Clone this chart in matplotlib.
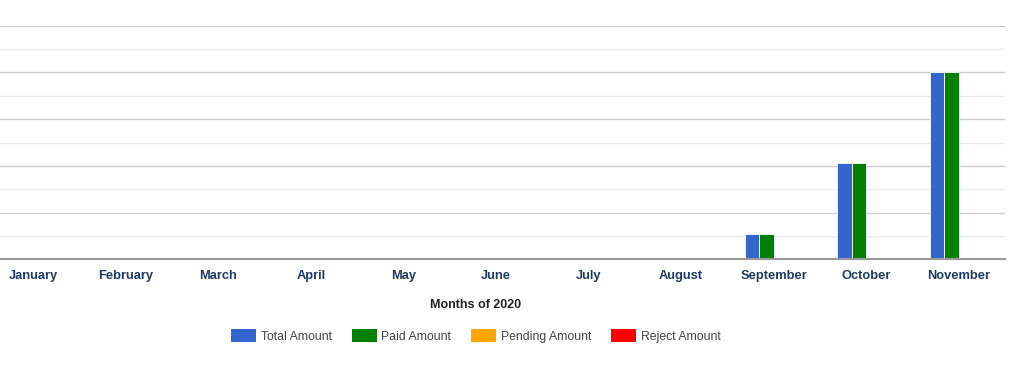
import matplotlib
matplotlib.use("Agg")
import matplotlib.pyplot as plt
from matplotlib.patches import Patch
import numpy as np

months = ["January", "February", "March", "April", "May", "June", "July",
          "August", "September", "October", "November"]
total_amount = [0, 0, 0, 0, 0, 0, 0, 0, 540, 2060, 4010]
paid_amount = [0, 0, 0, 0, 0, 0, 0, 0, 540, 2060, 4010]
pending_amount = [0, 0, 0, 0, 0, 0, 0, 0, 0, 0, 0]
reject_amount = [0, 0, 0, 0, 0, 0, 0, 0, 0, 0, 0]
series_names = ["Total Amount", "Paid Amount", "Pending Amount", "Reject Amount"]
colors = ["#3366cc", "#008000", "#ffa500", "#ff0000"]

plt.rcParams['font.family'] = ['Liberation Sans', 'DejaVu Sans']

W, H = 1024, 365
fig = plt.figure(figsize=(W / 100, H / 100), dpi=100)
left_px, right_px, top_px, base_px = -13, 1005, 25.7, 259.3
ax = fig.add_axes([left_px / W, (H - base_px) / H, (right_px - left_px) / W, (base_px - top_px) / H])

x = np.arange(len(months))
bw = 0.156
series = [total_amount, paid_amount, pending_amount, reject_amount]
for i, (vals, c) in enumerate(zip(series, colors)):
    ax.bar(x - 2 * bw + i * bw + bw / 2, vals, width=bw, color=c,
           edgecolor="white", linewidth=0.6, zorder=3)

ax.set_xlim(-0.5, len(months) - 0.5)
ax.set_ylim(0, 5000)
ax.set_yticks(np.arange(0, 5001, 1000))
ax.set_yticks(np.arange(500, 5000, 1000), minor=True)
ax.grid(axis='y', which='major', color='#cccccc', linewidth=1, zorder=0)
ax.grid(axis='y', which='minor', color='#ebebeb', linewidth=1, zorder=0)
ax.tick_params(axis='y', which='both', left=False, labelleft=False)
ax.tick_params(axis='x', length=0, pad=8)
ax.set_xticks(x)
ax.set_xticklabels(months, fontsize=9.3, fontweight='bold', color='#1c3a63')
for s in ['top', 'right', 'left']:
    ax.spines[s].set_visible(False)
ax.spines['bottom'].set_color('#999999')
ax.spines['bottom'].set_linewidth(1.5)
ax.spines['bottom'].set_zorder(4)

fig.text(476 / W, 1 - 305 / H, "Months of 2020", ha='center', va='center',
         fontsize=9, fontweight='bold', color='#222222')

handles = [Patch(facecolor=c, edgecolor='none') for c in colors]
fig.legend(handles, series_names, loc='center', bbox_to_anchor=(476 / W, 1 - 336 / H),
           ncol=4, frameon=False, fontsize=8.8, handlelength=2.05, handleheight=1.3,
           handletextpad=0.37, columnspacing=1.64, labelcolor='#444444')

fig.savefig("out.png", dpi=100)
